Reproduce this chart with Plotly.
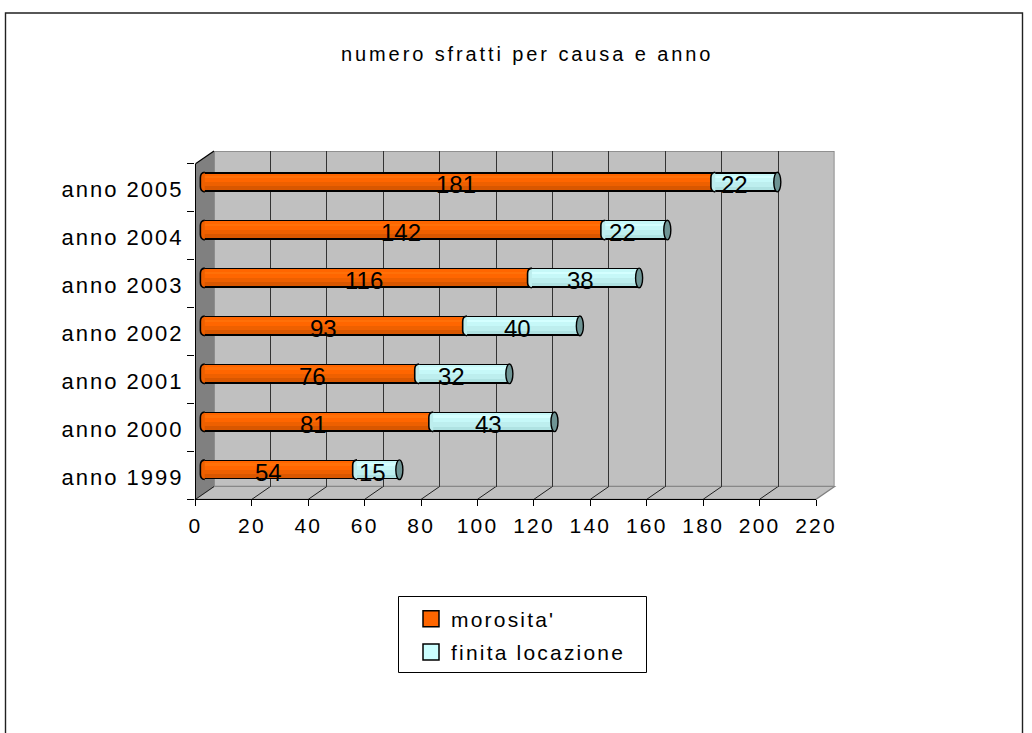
import plotly.graph_objects as go

W, H = 1032, 733
categories = ["anno 1999", "anno 2000", "anno 2001", "anno 2002", "anno 2003", "anno 2004", "anno 2005"]
morosita = [54, 81, 76, 93, 116, 142, 181]
finita = [15, 43, 32, 40, 38, 22, 22]
xticks = list(range(0, 221, 20))

FONT = "Liberation Sans, Arial, sans-serif"
INK = "#000000"

# pixel layout of the pseudo-3D box
FX0, FX1, FY0, FY1 = 195.5, 816.0, 163.7, 499.3   # front plane
DX, DY = 18.5, 12.8                               # depth offset
K = (FX1 - FX0) / 220                             # pixels per unit
PAD = 4                                           # extra room for caps on the bar axis, in data units
BAR_DY = DY / 2 - 0.8
LABEL_DROP = 2.0                                  # category labels sit a little below their band centre


def px(x):
    return x / W


def py(y):
    return 1 - y / H


def spaced(s, ls):
    return f'<span style="letter-spacing:{ls}px">{s}</span>'


fig = go.Figure()

BAR_W = 0.41
INSET = 0.07
orange_bands = [(0.0, 1.0, INK), (INSET, 1 - 2 * INSET, "#D95700"), (INSET, 0.66, "#EE6000"), (INSET, 0.43, "#FF6600"),
                (0.18, 0.12, "#FF7008")]
teal_bands = [(0.0, 1.0, INK), (INSET, 1 - 2 * INSET, "#AFE2E2"), (INSET, 0.68, "#BDEEEE"), (INSET, 0.45, "#C6F8F8"),
              (0.18, 0.12, "#D4FFFF")]


def add_series(name, values, bases, bands):
    for start, frac, color in bands:
        w = BAR_W * frac
        # start measured from the top of the bar; y increases upward
        off = BAR_W / 2 - BAR_W * start - w
        fig.add_trace(go.Bar(
            y=categories, x=values, base=bases, orientation="h", name=name,
            width=w, offset=off, showlegend=False, hoverinfo="skip",
            xaxis="x3", yaxis="y3",
            marker=dict(color=color, line=dict(width=0)),
        ))


add_series("morosita'", morosita, [0] * 7, orange_bands)
add_series("finita locazione", finita, morosita, teal_bands)

# axis carriers: back wall (x2/y2), front plane (x/y) and category labels (x/y4)
fig.add_trace(go.Scatter(x=[0, 220], y=[0, 1], mode="markers", marker=dict(opacity=0), showlegend=False,
                         hoverinfo="skip", xaxis="x2", yaxis="y2"))
fig.add_trace(go.Scatter(x=[0, 220], y=[categories[0], categories[-1]], mode="markers", marker=dict(opacity=0),
                         showlegend=False, hoverinfo="skip"))
fig.add_trace(go.Scatter(x=[0, 220], y=[categories[0], categories[-1]], mode="markers", marker=dict(opacity=0),
                         showlegend=False, hoverinfo="skip", yaxis="y4"))

# legend carriers
for name, color, group in [("morosita'", "#FF6600", "a"), ("finita locazione", "#CCFFFF", "b")]:
    fig.add_trace(go.Scatter(x=[None], y=[None], mode="markers", name=spaced(name, 2.2), legendgroup=group,
                             marker=dict(symbol="square", size=16, color=color, line=dict(width=1.5, color=INK))))

shapes = []
# side wall and floor
shapes.append(dict(type="path", xref="paper", yref="paper", layer="below", fillcolor="#808080", line=dict(width=0),
                   path=f"M{px(FX0)},{py(FY0)} L{px(FX0+DX)},{py(FY0-DY)} L{px(FX0+DX)},{py(FY1-DY)} L{px(FX0)},{py(FY1)} Z"))
shapes.append(dict(type="path", xref="paper", yref="paper", layer="below", fillcolor="#C0C0C0",
                   line=dict(width=1.2, color="#808080"),
                   path=f"M{px(FX0)},{py(FY1)} L{px(FX0+DX)},{py(FY1-DY)} L{px(FX1+DX)},{py(FY1-DY)} L{px(FX1)},{py(FY1)} Z"))
shapes.append(dict(type="line", xref="paper", yref="paper", layer="below", line=dict(width=1.2, color=INK),
                   x0=px(FX0), x1=px(FX0+DX), y0=py(FY0), y1=py(FY0-DY)))
# floor diagonals at ticks
for t in xticks[:-1]:
    xp = FX0 + K * t
    shapes.append(dict(type="line", xref="paper", yref="paper", layer="below", line=dict(width=1, color="#202020"),
                       x0=px(xp), x1=px(xp + DX), y0=py(FY1), y1=py(FY1 - DY)))
# outer frame
shapes.append(dict(type="rect", xref="paper", yref="paper", layer="below", line=dict(width=1.4, color="#202020"),
                   x0=px(5.5), x1=px(1022.5), y0=py(13), y1=py(760), fillcolor="rgba(0,0,0,0)"))
# legend box
shapes.append(dict(type="rect", xref="paper", yref="paper", layer="below", line=dict(width=1, color=INK),
                   x0=px(398.5), x1=px(646.5), y0=py(596.5), y1=py(672.5), fillcolor="#FFFFFF"))

# cylinder caps, driven by the data
CAP = 1.25
LEFT = 1.55
h = BAR_W / 2


def half_cap(x, i, color):
    curve = (f"M{x},{i-h} Q{x-LEFT},{i-h*0.95} {x-LEFT},{i-h*0.45} L{x-LEFT},{i+h*0.45} "
             f"Q{x-LEFT},{i+h*0.95} {x},{i+h}")
    return [dict(type="path", xref="x3", yref="y3", fillcolor=color, line=dict(width=0), path=curve + " Z"),
            dict(type="path", xref="x3", yref="y3", fillcolor="rgba(0,0,0,0)", line=dict(width=1.6, color=INK), path=curve)]


for i, (a, b) in enumerate(zip(morosita, finita)):
    shapes += half_cap(0, i, "#EE6000")
    shapes += half_cap(a, i, "#BDEEEE")
    total = a + b
    shapes.append(dict(type="circle", xref="x3", yref="y3", fillcolor="#6E9494", line=dict(width=1.4, color=INK),
                       x0=total - CAP, x1=total + CAP, y0=i - h, y1=i + h))

# per-label pixel nudges: the original places its value labels unevenly
nudge_a = [-9, -2, 4, -9, -1, -1, -1]
nudge_b = [-4, -3, -11, -4, -3, -12, -10]
annotations = []
for i, (a, b) in enumerate(zip(morosita, finita)):
    annotations.append(dict(x=a / 2, y=i, xref="x3", yref="y3", text=str(a), showarrow=False, yshift=-2.5,
                            xshift=-3 + nudge_a[i], font=dict(family=FONT, size=24, color=INK)))
    annotations.append(dict(x=a + b / 2, y=i, xref="x3", yref="y3", text=str(b), showarrow=False, yshift=-2.5,
                            xshift=-2 + nudge_b[i], font=dict(family=FONT, size=24, color=INK)))
annotations.append(dict(x=px(527), y=py(54), xref="paper", yref="paper", showarrow=False, xanchor="center", yanchor="middle",
                        text=spaced("numero sfratti per causa e anno", 2.9),
                        font=dict(family=FONT, size=20, color=INK)))

fig.update_layout(
    width=W, height=H, autosize=False,
    margin=dict(l=0, r=0, t=0, b=0, autoexpand=False),
    paper_bgcolor="#FFFFFF", plot_bgcolor="rgba(0,0,0,0)",
    barmode="overlay", bargap=0,
    shapes=shapes, annotations=annotations,
    showlegend=True,
    legend=dict(x=px(411), y=py(598.5), xanchor="left", yanchor="top", bgcolor="rgba(0,0,0,0)", borderwidth=0,
                tracegroupgap=3, itemclick=False, itemdoubleclick=False,
                font=dict(family=FONT, size=21, color=INK)),
    # front plane: visible axes
    xaxis=dict(domain=[px(FX0), px(FX1)], range=[0, 220], tickvals=xticks, ticktext=[spaced(str(t), 2.2) for t in xticks],
               ticks="outside", ticklen=6, tickwidth=1.2, tickcolor=INK, linecolor=INK, linewidth=1.2, showline=True,
               showgrid=False, zeroline=False, anchor="y", ticklabelstandoff=1,
               tickfont=dict(family=FONT, size=21, color=INK)),
    yaxis=dict(domain=[py(FY1), py(FY0)], type="category", categoryorder="array", categoryarray=categories,
               range=[-0.5, 6.5], tickmode="array", tickvals=categories, showticklabels=False,
               ticks="outside", tickson="boundaries", ticklen=7, tickwidth=1.2, tickcolor=INK,
               linecolor=INK, linewidth=1.2, showline=True, showgrid=False, zeroline=False, anchor="x"),
    # category labels, on their own axis so they can sit slightly lower than the tick band centres
    yaxis4=dict(domain=[py(FY1 + LABEL_DROP), py(FY0 + LABEL_DROP)], type="category", categoryorder="array",
                categoryarray=categories, range=[-0.5, 6.5], tickmode="array", tickvals=categories,
                ticktext=[spaced(c, 2.0) for c in categories], ticks="", showline=False, showgrid=False,
                zeroline=False, anchor="x", ticklabelstandoff=11,
                tickfont=dict(family=FONT, size=22, color=INK)),
    # back wall: gridlines only
    xaxis2=dict(domain=[px(FX0 + DX), px(FX1 + DX)], range=[0, 220], tickvals=xticks, showticklabels=False, ticks="",
                showgrid=True, gridcolor="#333333", gridwidth=1, showline=False, zeroline=False, anchor="y2"),
    yaxis2=dict(domain=[py(FY1 - DY), py(FY0 - DY)], range=[0, 1], showticklabels=False, ticks="", showgrid=False,
                zeroline=False, showline=False, anchor="x2"),
    # mid depth: bars (the range is padded so the cylinder caps are not clipped)
    xaxis3=dict(domain=[px(FX0 + DX / 2 - PAD * K), px(FX1 + DX / 2 + PAD * K)], range=[-PAD, 220 + PAD], visible=False, anchor="y3"),
    yaxis3=dict(domain=[py(FY1 - BAR_DY), py(FY0 - BAR_DY)], type="category", categoryorder="array", categoryarray=categories,
                range=[-0.5, 6.5], visible=False, anchor="x3"),
)
# back wall panel, driven by the wall axes
fig.add_shape(type="rect", xref="x2", yref="y2", x0=0, x1=220, y0=0, y1=1, layer="below",
              fillcolor="#C0C0C0", line=dict(width=1.6, color="#808080"))

fig.write_html("out.html", config={"displayModeBar": False},
               post_script="document.body.style.margin='0';document.body.style.overflow='hidden';")
